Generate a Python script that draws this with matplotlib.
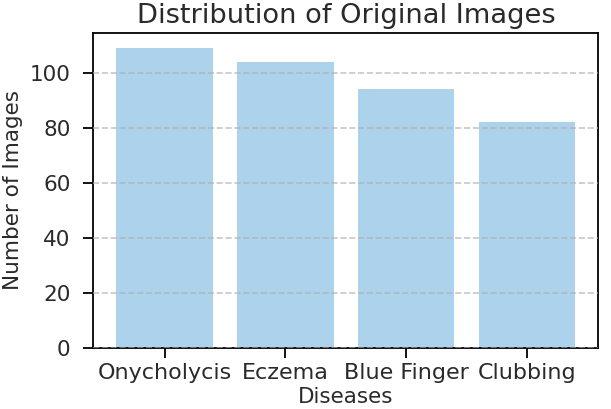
import matplotlib
matplotlib.use('Agg')
import matplotlib.pyplot as plt

# データ
diseases = ['Onycholycis', 'Eczema', 'Blue Finger', 'Clubbing']
image_counts = [109, 104, 94, 82]

fig, ax = plt.subplots(figsize=(6.11, 4.09), dpi=100)

ax.bar(diseases, image_counts, color='#87bfe3', alpha=0.68)
ax.grid(axis='y', linestyle='--', alpha=0.7, linewidth=1.2)
ax.set_axisbelow(False)

text_color = '#2a2a2a'
ax.set_title('Distribution of Original Images', fontsize=19.6, color=text_color, pad=7)
ax.set_xlabel('Diseases', fontsize=15.5, color=text_color, labelpad=3)
ax.set_ylabel('Number of Images', fontsize=15.5, color=text_color, labelpad=4.5)
ax.tick_params(labelsize=15.5, length=7.5, width=1.3, labelcolor=text_color)
ax.tick_params(axis='x', labelsize=16, pad=3)
ax.tick_params(axis='y', pad=9)
for spine in ax.spines.values():
    spine.set_linewidth(1.3)

plt.subplots_adjust(left=0.153, right=0.979, bottom=0.149, top=0.92)
fig.savefig('out.png', dpi=100)
